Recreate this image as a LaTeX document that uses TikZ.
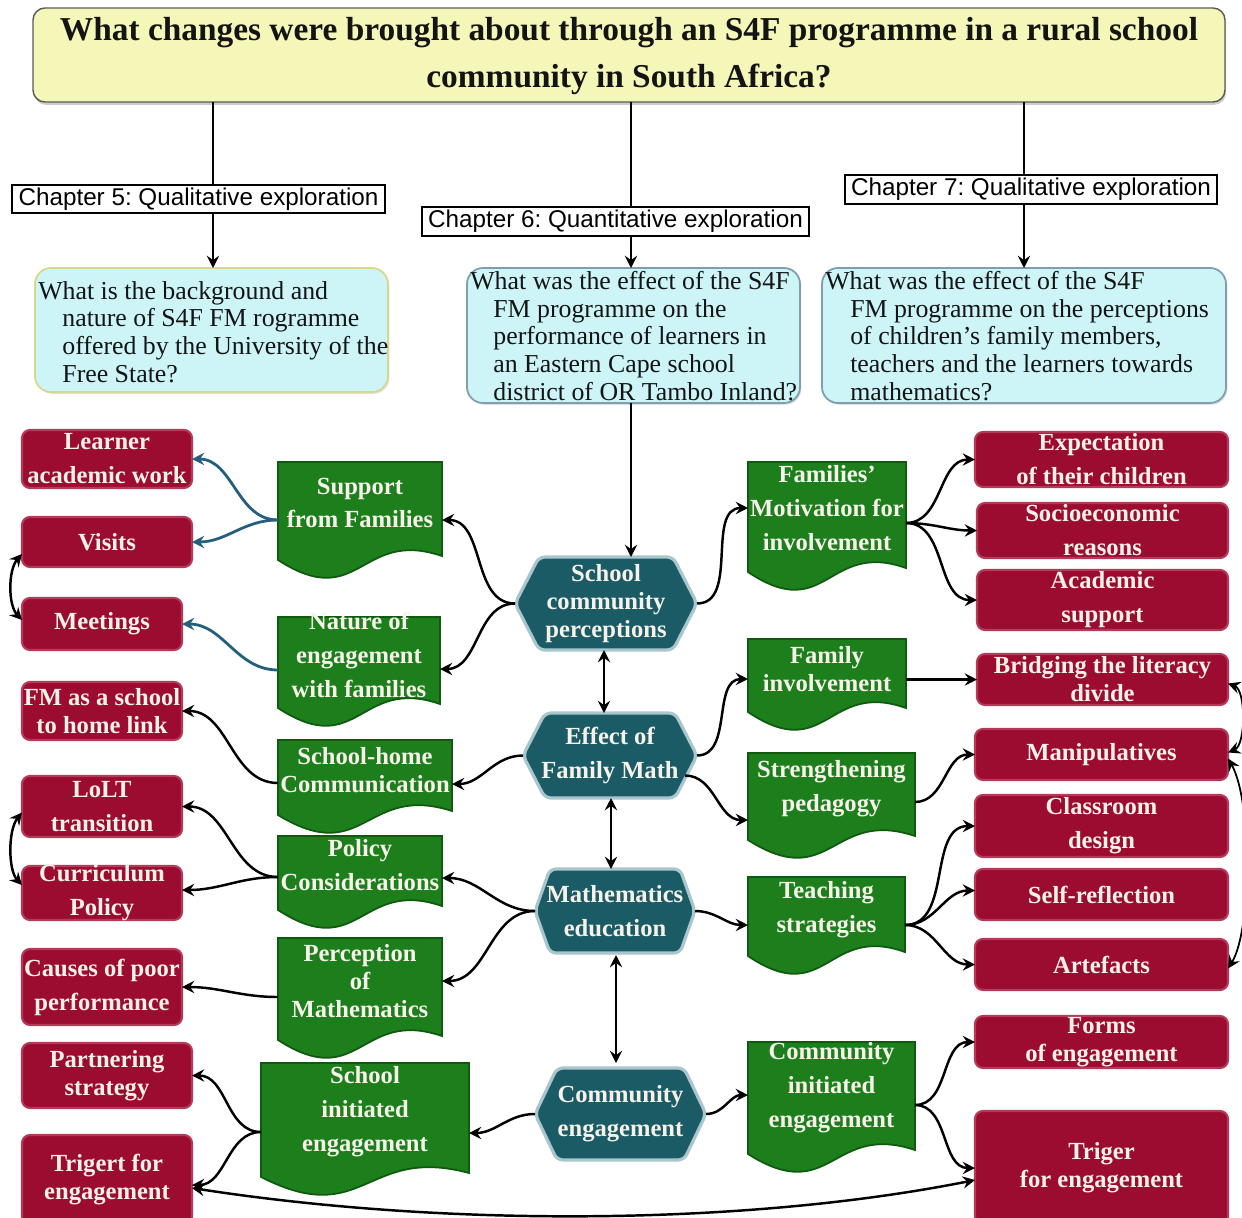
\documentclass[tikz,border=0pt]{standalone}
\usepackage{fontspec}
\setmainfont{Liberation Serif}
\setsansfont{Liberation Sans}
\usetikzlibrary{arrows.meta,calc,fit,shadows}
\frenchspacing

\definecolor{titlefill}{HTML}{F4F7B8}
\definecolor{titleline}{HTML}{5A5A5A}
\definecolor{qfill}{HTML}{CDF5F8}
\definecolor{qlineA}{HTML}{D9D68E}
\definecolor{qlineB}{HTML}{7F9FB0}
\definecolor{rfill}{HTML}{9C0C31}
\definecolor{rline}{HTML}{B53A5A}
\definecolor{gfill}{HTML}{1D7F1C}
\definecolor{gline}{HTML}{0E5A0E}
\definecolor{hfill}{HTML}{1B5B66}
\definecolor{hline}{HTML}{A9C5CE}
\definecolor{bluelink}{HTML}{245F7E}
\definecolor{lighttext}{HTML}{F6F2EA}
\definecolor{darktext}{HTML}{141414}

\tikzset{
  body/.style={inner sep=0pt, outer sep=0pt},
  titlebox/.style={body, draw=titleline, fill=titlefill, line width=0.8pt,
    rounded corners=0.24cm,
    drop shadow={shadow xshift=0.6pt, shadow yshift=-1.6pt, opacity=0.4}},
  titletext/.style={align=center, inner sep=0pt, text=darktext,
    font=\bfseries\fontsize{19}{26.7}\selectfont},
  chapbox/.style={body, draw=black, fill=white, line width=0.6pt,
    drop shadow={shadow xshift=0.8pt, shadow yshift=-0.8pt, opacity=0.3}},
  chaptext/.style={inner sep=0pt, text=black, font=\sffamily\fontsize{13.8}{16}\selectfont},
  qbox/.style={body, fill=qfill, line width=1pt, rounded corners=0.32cm,
    drop shadow={shadow xshift=0.8pt, shadow yshift=-1pt, opacity=0.25}},
  qtext/.style={align=left, inner sep=0pt, text=darktext,
    font=\fontsize{14.7}{15.7}\selectfont},
  rbody/.style={body, draw=rline, fill=rfill, line width=1.2pt, rounded corners=0.16cm},
  gbody/.style={body},
  gshape/.style={draw=gline, fill=gfill, line width=1pt},
  hbody/.style={body},
  hshape/.style={draw=hline, fill=hfill, line width=1.8pt, rounded corners=0.12cm},
  lighttxt/.style={align=center, inner sep=0pt, text=lighttext,
    font=\bfseries\fontsize{14}{19.3}\selectfont},
  tight/.style={font=\bfseries\fontsize{14}{15.9}\selectfont},
  conn/.style={line width=1.4pt, black},
  thinconn/.style={line width=1pt, black},
  blueconn/.style={line width=1.6pt, bluelink},
  >={Stealth[length=7pt,width=7pt,inset=2.5pt]}
}

% red rounded box: [text options]{name}{x1}{y1}{x2}{y2}{text}
\newcommand\redbox[7][]{%
  \node[rbody, fit={(#3,#4)(#5,#6)}] (#2) {};
  \node[lighttxt,#1] (#2-t) at (#2.center) {#7};
}
% green document shape: [text options]{name}{x1}{y1}{x2}{y2}{text y}{text}
\newcommand\greendoc[8][]{%
  \node[gbody, fit={(#3,#4)(#5,#6)}] (#2) {};
  \path[gshape] (#2.north west) -- (#2.north east) -- ($(#2.south east)+(0,-2)$)
    .. controls ($(#2.south)+(0,-30)$) and ($(#2.south)+(0,55)$) ..
    ($(#2.south west)+(0,2)$) -- cycle;
  \coordinate (#2-c) at (#2.center);
  \node[lighttxt,#1] (#2-t) at (#2-c |- 0,#7) {#8};
}
% teal hexagon: [text options]{name}{x1}{y1}{x2}{y2}{tip depth}{text}
\newcommand\hexbox[8][]{%
  \node[hbody, fit={(#3,#4)(#5,#6)}] (#2) {};
  \path[hshape] ($(#2.north west)+(#7,0)$) -- ($(#2.north east)+(-#7,0)$) -- (#2.east)
    -- ($(#2.south east)+(-#7,0)$) -- ($(#2.south west)+(#7,0)$) -- (#2.west) -- cycle;
  \node[lighttxt,#1] (#2-t) at (#2.center) {#8};
}

\begin{document}
\begin{tikzpicture}[x=0.02cm, y=-0.02cm]
\fill[white] (0,0) rectangle (1242,1218);
\useasboundingbox (0,0) rectangle (1242,1218);

% ---------- research question ----------
\node[titlebox, fit={(33,8)(1225,102)}] (title) {};
\node[titletext] (title-t) at (629,56)
  {What changes were brought about through an S4F programme in a rural school\\
   community in South Africa?};

% ---------- chapter labels ----------
\node[chapbox, fit={(12,185)(385,213)}] (c5) {};
\node[chaptext] (c5-t) at (c5.center) {Chapter 5: Qualitative exploration};
\node[chapbox, fit={(422,207)(809,236)}] (c6) {};
\node[chaptext] (c6-t) at (c6.center) {Chapter 6: Quantitative exploration};
\node[chapbox, fit={(845,175)(1217,204)}] (c7) {};
\node[chaptext] (c7-t) at (c7.center) {Chapter 7: Qualitative exploration};

% ---------- sub-questions ----------
\node[qbox, draw=qlineA, fit={(35,268)(388,392)}] (q1) {};
\node[qtext, anchor=west] (q1-t) at (38,332)
  {What is the background and\\
   \hspace*{13.7pt}nature of S4F FM rogramme\\
   \hspace*{13.7pt}offered by the University of the\\
   \hspace*{13.7pt}Free State?};
\node[qbox, draw=qlineB, fit={(467,268)(800,403)}] (q2) {};
\node[qtext, anchor=west] (q2-t) at (470,336)
  {What was the effect of the S4F\\
   \hspace*{13.1pt}FM programme on the\\
   \hspace*{13.1pt}performance of learners in\\
   \hspace*{13.1pt}an Eastern Cape school\\
   \hspace*{13.1pt}district of OR Tambo Inland?};
\node[qbox, draw=qlineB, fit={(822,268)(1226,403)}] (q3) {};
\node[qtext, anchor=west] (q3-t) at (825,336)
  {What was the effect of the S4F\\
   \hspace*{14.2pt}FM programme on the perceptions\\
   \hspace*{14.2pt}of children's family members,\\
   \hspace*{14.2pt}teachers and the learners towards\\
   \hspace*{14.2pt}mathematics?};

% ---------- central themes ----------
\hexbox[tight]{h1}{515}{557}{697}{650}{24}{School\\community\\perceptions}
\hexbox{h2}{523}{713}{697}{798}{22}{Effect of\\Family Math}
\hexbox{h3}{535}{869}{695}{953}{15}{Mathematics\\education}
\hexbox{h4}{535}{1068}{706}{1160}{22}{Community\\engagement}

% ---------- categories ----------
\greendoc{sup}{278}{462}{442}{558}{503}{Support\\from Families}
\greendoc{nat}{278}{617}{440}{706}{655}{Nature of\\engagement\\with families}
\greendoc[tight]{shc}{278}{740}{452}{813}{770}{School-home\\Communication}
\greendoc{pol}{278}{836}{442}{908}{865}{Policy\\Considerations}
\greendoc[tight]{per}{278}{938}{442}{1038}{981}{Perception\\of\\Mathematics}
\greendoc{sie}{261}{1063}{469}{1175}{1112}{School\\initiated\\engagement}
\greendoc{mot}{748}{462}{906}{570}{508}{Families'\\Motivation for\\involvement}
\greendoc[tight]{fin}{748}{639}{906}{710}{669}{Family\\involvement}
\greendoc{str}{748}{753}{915}{838}{789}{Strengthening\\pedagogy}
\greendoc{tea}{748}{877}{905}{954}{910}{Teaching\\strategies}
\greendoc{cie}{748}{1042}{915}{1152}{1088}{Community\\initiated\\engagement}

% ---------- themes ----------
\redbox{r1}{22}{430}{192}{488}{Learner\\academic work}
\redbox{r2}{22}{517}{192}{567}{Visits}
\redbox{r3}{22}{598}{182}{650}{Meetings}
\redbox[tight]{r4}{22}{682}{182}{740}{FM as a school\\to home link}
\redbox{r5}{22}{776}{182}{837}{LoLT\\transition}
\redbox{r6}{22}{866}{182}{920}{Curriculum\\Policy}
\redbox{r7}{22}{949}{182}{1025}{Causes of poor\\performance}
\redbox[tight]{r8}{22}{1043}{192}{1108}{Partnering\\strategy}
\redbox[tight]{r9}{22}{1135}{192}{1225}{Trigert for\\engagement}
\redbox{r10}{975}{432}{1228}{487}{Expectation\\of their children}
\redbox{r11}{977}{503}{1228}{558}{Socioeconomic\\reasons}
\redbox{r12}{977}{570}{1228}{630}{Academic\\support}
\redbox[tight]{r13}{977}{654}{1228}{705}{Bridging the literacy\\divide}
\redbox{r14}{975}{729}{1228}{780}{Manipulatives}
\redbox{r15}{975}{795}{1228}{857}{Classroom\\design}
\redbox{r16}{975}{869}{1228}{920}{Self-reflection}
\redbox{r17}{975}{939}{1228}{990}{Artefacts}
\redbox[tight]{r18}{975}{1016}{1228}{1068}{Forms\\of engagement}
\redbox[tight]{r19}{975}{1111}{1228}{1225}{Triger\\for engagement}

% ---------- connectors: question to chapters ----------
\coordinate (x1) at (213,0);
\coordinate (x2) at (631,0);
\coordinate (x3) at (1024,0);
\coordinate (xa) at (604,0);
\coordinate (xb) at (611,0);
\coordinate (xc) at (616,0);
\draw[conn] (title.south -| x1) -- (c5.north -| x1);
\draw[conn,->] (c5.south -| x1) -- (q1.north -| x1);
\draw[conn] (title.south -| x2) -- (c6.north -| x2);
\draw[conn,->] (c6.south -| x2) -- (q2.north -| x2);
\draw[conn] (title.south -| x3) -- (c7.north -| x3);
\draw[conn,->] (c7.south -| x3) -- (q3.north -| x3);
\draw[conn,->] (q2.south -| x2) -- (h1.north -| x2);

% ---------- connectors between central themes ----------
\draw[conn,<->] (h1.south -| xa) -- (h2.north -| xa);
\draw[conn,<->] (h2.south -| xb) -- (h3.north -| xb);
\draw[conn,<->] ($(h3.south -| xc)+(0,2)$) -- ($(h4.north -| xc)+(0,-5)$);

% ---------- central themes to categories ----------
\draw[conn,->] (h1.west) to[out=180,in=0] ($(sup.east |- sup-t)+(0,17)$);
\draw[conn,->] (h1.west) to[out=180,in=0] ($(nat.east |- nat-t)+(0,14)$);
\draw[conn,->] (h1.east) to[out=0,in=180] (mot.west |- mot-t);
\draw[conn,->] (h2.west) to[out=180,in=0] ($(shc.east |- shc-t)+(0,14)$);
\draw[conn,->] (h2.east) to[out=0,in=180] ($(fin.west |- fin-t)+(0,10)$);
\draw[conn,->] ($(h2.east)+(-12,20)$) to[out=0,in=180] ($(str.west |- str-t)+(0,31)$);
\draw[conn,->] (h3.west) to[out=180,in=0] ($(pol.east |- pol-t)+(0,13)$);
\draw[conn,->] (h3.west) to[out=180,in=0] (per.east |- per-t);
\draw[conn,->] (h3.east) to[out=0,in=180] ($(tea.west |- tea-t)+(0,15)$);
\draw[conn,->] (h4.west) to[out=180,in=0] ($(sie.east |- sie-t)+(0,21)$);
\draw[conn,->] (h4.east) to[out=0,in=180] ($(cie.west |- cie-t)+(0,7)$);

% ---------- categories to themes, left ----------
\draw[blueconn,->] ($(sup.west |- sup-t)+(0,17)$) to[out=180,in=0] (r1.east);
\draw[blueconn,->] ($(sup.west |- sup-t)+(0,17)$) to[out=180,in=0] (r2.east);
\draw[blueconn,->] ($(nat.west |- nat-t)+(0,15)$) to[out=180,in=0] (r3.east);
\draw[conn,->] ($(shc.west |- shc-t)+(0,13)$) to[out=180,in=0] (r4.east);
\draw[conn,->] ($(pol.west |- pol-t)+(0,12)$) to[out=180,in=0] (r5.east);
\draw[conn,->] ($(pol.west |- pol-t)+(0,12)$) to[out=180,in=0] ($(r6.east)+(0,-3)$);
\draw[conn,->] ($(per.west |- per-t)+(0,16)$) to[out=180,in=0] (r7.east);
\draw[conn,->] ($(sie.west |- sie-t)+(0,20)$) to[out=180,in=0] (r8.east);
\draw[conn,->] ($(sie.west |- sie-t)+(0,20)$) to[out=180,in=0] ($(r9.east)+(0,5)$);
\draw[conn,<->] ($(r2.west)+(0,12)$) .. controls (8,570) and (8,605) .. ($(r3.west)+(0,-4)$);
\draw[conn,<->] ($(r5.west)+(0,6)$) .. controls (8,830) and (8,870) .. ($(r6.west)+(0,-8)$);

% ---------- categories to themes, right ----------
\draw[conn,->] ($(mot.east |- mot-t)+(0,15)$) to[out=0,in=180] (r10.west);
\draw[conn,->] ($(mot.east |- mot-t)+(0,15)$) to[out=0,in=180] (r11.west);
\draw[conn,->] ($(mot.east |- mot-t)+(0,15)$) to[out=0,in=180] (r12.west);
\draw[conn,->] (fin.east |- r13.west) -- (r13.west);
\draw[conn,->] ($(str.east |- str-t)+(0,13)$) to[out=0,in=180] (r14.west);
\draw[conn,->] ($(tea.east |- tea-t)+(0,15)$) to[out=0,in=180] (r15.west);
\draw[conn,->] ($(tea.east |- tea-t)+(0,15)$) to[out=0,in=180] ($(r16.west)+(0,-4)$);
\draw[conn,->] ($(tea.east |- tea-t)+(0,15)$) to[out=0,in=180] (r17.west);
\draw[conn,->] ($(cie.east |- cie-t)+(0,17)$) to[out=0,in=180] (r18.west);
\draw[conn,->] ($(cie.east |- cie-t)+(0,17)$) to[out=0,in=180] (r19.west);
\draw[thinconn,<->] ($(r13.east)+(0,4)$) .. controls (1246,690) and (1246,745) .. ($(r14.east)+(0,-2)$);
\draw[thinconn,<->] ($(r14.east)+(0,4)$) .. controls (1252,800) and (1252,930) .. ($(r17.east)+(0,4)$);

% ---------- link between the two triggers ----------
\draw[conn,<->] ($(r9.east)+(0,8)$) .. controls (450,1228) and (750,1225) .. ($(r19.west)+(0,12)$);
\end{tikzpicture}
\end{document}
